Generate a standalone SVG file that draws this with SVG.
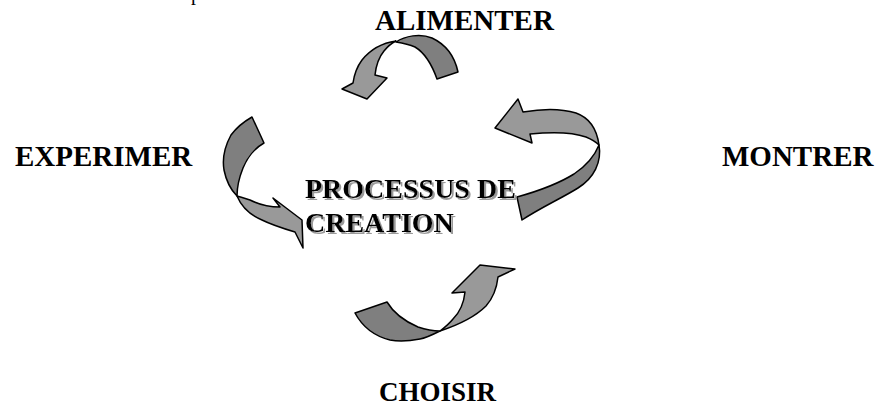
<svg xmlns="http://www.w3.org/2000/svg" width="877" height="406" viewBox="0 0 877 406">
<style>
.lbl{font-family:"Liberation Serif","Times New Roman",serif;font-weight:bold;font-size:29px;fill:#000}
.ctr{font-family:"Liberation Serif","Times New Roman",serif;font-weight:bold;font-size:28px;fill:#000}
.lt{fill:#999999;stroke:#000;stroke-width:1.5;stroke-linejoin:round}
.dk{fill:#7f7f7f;stroke:#000;stroke-width:1.5;stroke-linejoin:round}
</style>
<defs>
<filter id="shadow" x="-5%" y="-20%" width="110%" height="140%">
  <feOffset in="SourceAlpha" dx="2" dy="2" result="off"/>
  <feFlood flood-color="#9a9a9a"/>
  <feComposite in2="off" operator="in" result="sh"/>
  <feMerge><feMergeNode in="sh"/><feMergeNode in="SourceGraphic"/></feMerge>
</filter>
</defs>
<rect width="877" height="406" fill="#fff"/>
<text x="191" y="-0.5" style="font-family:'Liberation Serif',serif;font-size:20px">p</text>
<g id="connectors">
  <g id="arrow-top">
    <path class="dk" d="M396,42 C405,36 420,33 432,38 C447,45 455,58 458,72 L437,79 C432,65 425,53 415,47 C408,44 402,43 396,42 Z"/>
    <path class="lt" d="M396,41 C382,43 370,50 362,60 C356,68 354,76 353,83 L342,89 L367,99 L387,78 L375,75 C376,66 379,57 384,51 C388,46 392,43 396,41 Z"/>
  </g>
  <g id="arrow-left">
    <path class="dk" d="M252,117 L264,143 C255,148 247,158 243,168 C239,178 237,188 237,196 C231,190 226,180 224,170 C222,158 225,146 231,135 C237,127 245,121 252,117 Z"/>
    <path class="lt" d="M237,196 C242,208 250,215 262,220 C272,225 285,229 295,232 L303,248 L302,220 L273,198 L280,207 C268,207 258,204 250,200 C244,198 240,197 237,196 Z"/>
  </g>
  <g id="arrow-right">
    <path class="dk" d="M599,145 C602,162 594,178 578,188 C562,198 540,208 522,220 L517,197 C535,192 558,184 574,174 C586,166 595,155 599,145 Z"/>
    <path class="lt" d="M599,145 C597,130 590,118 576,113 C560,108 540,109 523,112 L518,99 L495,128 L532,143 L530,134 C550,132 572,132 586,137 C593,140 597,143 599,145 Z"/>
  </g>
  <g id="arrow-bottom">
    <path class="dk" d="M355,313 L387,302 C393,312 404,321 418,327 C427,330 434,331 440,331 C432,335 426,338 420,339 C410,341 400,342 390,340 C374,336 362,326 355,313 Z"/>
    <path class="lt" d="M440,331 C455,326 474,318 486,306 C494,297 497,286 498,277 L515,269 L480,265 L452,293 L465,292 C464,302 460,312 453,319 C449,324 444,328 440,331 Z"/>
  </g>
</g>
<g id="node-alimenter"><text class="lbl" x="375" y="30">ALIMENTER</text></g>
<g id="node-experimer"><text class="lbl" x="15" y="166">EXPERIMER</text></g>
<g id="node-montrer"><text class="lbl" x="722" y="166">MONTRER</text></g>
<g id="node-choisir"><text class="lbl" x="379" y="401" style="font-size:27px">CHOISIR</text></g>
<g id="node-center" filter="url(#shadow)">
  <text class="ctr" x="305" y="198">PROCESSUS DE</text>
  <text class="ctr" x="305" y="232">CREATION</text>
</g>
</svg>
